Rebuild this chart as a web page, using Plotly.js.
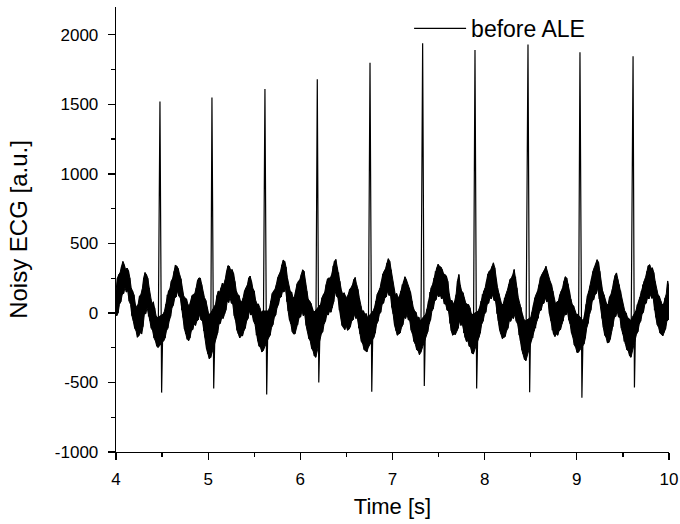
<!DOCTYPE html>
<html>
<head>
<meta charset="utf-8">
<script src="https://cdn.plot.ly/plotly-3.0.1.min.js"></script>
<style>html,body{margin:0;padding:0;background:#fff;}#chart{width:680px;height:524px;}</style>
</head>
<body>
<div id="chart"></div>
<script>
// Noisy band. Rows = 0.3 s; null = sample hidden by a QRS complex.
// upperEnvelope at t, upperMid at t+0.015, lowerEnvelope at t+0.0075, lowerMid at t+0.0225 (t = 4.00 + 0.03*i)
var sampleStart = 4.0;
var sampleStep = 0.03;
var upperEnvelope = [
  157, 276, 335, 347, 323, 252, 157, 62, 62, 133,
  252, 276, 181, 62, 38, -33, null, -10, 62, 157,
  228, 300, 335, 276, 181, 110, 62, 86, 133, 181,
  252, 205, 110, 38, -10, null, 62, 157, 181, 205,
  300, 335, 312, 228, 133, 86, 110, 181, 252, 228,
  157, 62, 38, 14, null, 14, 86, 157, 205, 276,
  347, 371, 252, 157, 110, 157, 228, 276, 300, 157,
  86, 38, 14, null, 62, 133, 205, 252, 276, 371,
  324, 228, 133, 121, 133, 181, 240, 205, 110, 14,
  -10, -33, null, 14, 86, 157, 228, 300, 359, 371,
  228, 133, 110, 157, 228, 240, 181, 86, 14, -33,
  -57, null, -10, 86, 181, 252, 324, 335, 312, 276,
  228, 86, 62, 133, 276, 157, 110, 62, 38, -10,
  null, 14, 86, 157, 228, 300, 335, 324, 181, 86,
  62, 133, 205, 252, 312, 181, 62, -10, -57, null,
  -33, 62, 133, 205, 276, 312, 300, 228, 157, 62,
  86, 157, 228, 252, 157, 62, 14, -10, null, -57,
  62, 157, 252, 324, 383, 300, 157, 86, 62, 133,
  228, 288, 205, 86, 14, -33, -57, null, 14, 86,
  157, 228, 300, 347, 324, 228, 133, 86, 62, 133,
  181
];
var upperMid = [
  250, 290, 370, 310, 305, 180, 130, 40, 120, 170,
  290, 250, 100, 80, -20, null, null, 10, 130, 175,
  250, 345, 320, 245, 120, 100, 50, 125, 140, 235,
  250, 140, 90, -5, null, null, 125, 150, 215, 240,
  340, 305, 285, 160, 125, 80, 160, 200, 265, 175,
  90, 65, 5, null, null, 35, 140, 170, 255, 300,
  380, 330, 190, 150, 115, 210, 240, 310, 220, 100,
  70, 5, null, null, 110, 150, 245, 250, 340, 385,
  290, 165, 145, 110, 170, 200, 255, 170, 50, 15,
  -5, null, null, 40, 135, 180, 280, 320, 390, 310,
  170, 140, 120, 205, 260, 200, 150, 40, 5, -30,
  null, null, 30, 150, 205, 300, 350, 330, 280, 265,
  140, 90, 85, 230, 200, 145, 70, 60, -5, null,
  null, 40, 135, 180, 280, 310, 360, 240, 140, 60,
  110, 160, 240, 275, 260, 110, 40, -45, null, null,
  5, 110, 160, 255, 290, 335, 250, 205, 90, 80,
  130, 180, 260, 210, 100, 50, -10, null, null, -5,
  125, 195, 300, 350, 365, 215, 130, 60, 115, 170,
  270, 240, 160, 40, 0, -40, null, null, 60, 115,
  205, 255, 340, 320, 290, 165, 120, 60, 110, 230,
  null
];
var lowerEnvelope = [
  -21, 62, 133, 181, 157, 62, -57, -128, -164, -152,
  -10, 38, -57, -128, -200, -248, null, -200, -128, -57,
  38, 110, 157, 110, -33, -152, -200, -128, -80, -57,
  -10, -57, -176, -295, -320, null, -176, -80, -33, -10,
  86, 110, 62, -57, -152, -164, -128, -57, 14, -10,
  -80, -200, -248, -271, null, -176, -105, -33, 38, 110,
  157, 181, 14, -80, -152, -105, -33, 14, -10, -128,
  -200, -271, -319, null, -152, -80, -10, 14, 38, 157,
  110, -33, -105, -93, -117, -57, -10, -33, -152, -224,
  -271, -248, null, -176, -80, -10, 62, 110, 157, 133,
  -10, -128, -152, -105, -33, -10, -57, -152, -224, -271,
  -283, null, -152, -80, 14, 86, 133, 133, 110, 62,
  14, -128, -152, -128, -57, -80, -176, -200, -248, -295,
  null, -176, -80, -10, 62, 110, 133, 86, -57, -152,
  -176, -128, -57, -33, -10, -80, -200, -295, -343, null,
  -200, -128, -57, 14, 62, 110, 86, -57, -152, -152,
  -128, -80, -10, 14, -80, -176, -248, -283, null, -224,
  -105, -10, 86, 133, 181, 62, -105, -176, -212, -128,
  -33, 14, -33, -152, -224, -271, -319, null, -152, -80,
  -10, 62, 110, 133, 110, -33, -105, -152, -140, -57,
  -10
];
var lowerMid = [
  0, 80, 140, 150, 85, -20, -110, -175, -140, -100,
  -5, -25, -110, -180, -240, null, null, -180, -110, -25,
  55, 115, 120, 20, -115, -190, -180, -120, -90, -50,
  -50, -130, -260, -330, null, null, -145, -75, -40, 20,
  75, 70, -20, -125, -180, -165, -110, -40, -15, -60,
  -160, -240, -280, null, null, -160, -85, -15, 60, 115,
  150, 80, -50, -135, -150, -85, -30, -20, -90, -185,
  -255, -310, null, null, -135, -60, -15, 5, 80, 120,
  20, -90, -120, -125, -100, -50, -40, -110, -205, -265,
  -280, null, null, -145, -60, 5, 70, 115, 125, 40,
  -90, -160, -145, -85, -40, -50, -125, -205, -265, -300,
  null, null, -135, -50, 30, 95, 115, 100, 65, 20,
  -75, -160, -155, -110, -90, -145, -205, -240, -290, null,
  null, -145, -60, 5, 70, 100, 90, -5, -125, -185,
  -170, -110, -60, -40, -60, -160, -265, -335, null, null,
  -180, -110, -40, 20, 70, 80, -5, -125, -170, -160,
  -120, -60, -15, -50, -145, -230, -285, null, null, -180,
  -75, 20, 95, 140, 100, -40, -160, -215, -190, -100,
  -25, -30, -110, -205, -265, -310, null, null, -135, -60,
  5, 70, 100, 105, 20, -85, -145, -165, -115, -50,
  null
];
// QRS complexes: R-peak time and value, S-trough time and value
var rPeakTimes    = [4.477, 5.041, 5.616, 6.184, 6.756, 7.327, 7.895, 8.470, 9.034, 9.610];
var rPeakValues   = [1520, 1550, 1610, 1680, 1800, 1940, 1890, 1930, 1875, 1845];
var sTroughTimes  = [4.495, 5.060, 5.635, 6.200, 6.775, 7.345, 7.913, 8.488, 9.055, 9.625];
var sTroughValues = [-573, -544, -587, -501, -566, -525, -544, -570, -609, -537];
// Axis ticks
var yTickValues = [-1000, -500, 0, 500, 1000, 1500, 2000];
var yTickLabels = ['-1000', '-500', '0', '500', '1000', '1500', '2000'];
var xTickValues = [4, 5, 6, 7, 8, 9, 10];
var xTickLabels = ['4', '5', '6', '7', '8', '9', '10'];

// Build traces from the arrays
var upX = [], upY = [], loX = [], loY = [], pts = [];
function addUp(t, v) { if (v !== null) { upX.push(t); upY.push(v); pts.push([t, v]); } }
function addLo(t, v) { if (v !== null) { loX.push(t); loY.push(v); pts.push([t, v]); } }
for (var i = 0; i < upperEnvelope.length; i++) {
  var t = sampleStart + i * sampleStep;
  addUp(t, upperEnvelope[i]);
  addLo(t + sampleStep * 0.25, lowerEnvelope[i]);
  addUp(t + sampleStep * 0.5, upperMid[i]);
  addLo(t + sampleStep * 0.75, lowerMid[i]);
}
for (var k = 0; k < rPeakTimes.length; k++) {
  pts.push([rPeakTimes[k], rPeakValues[k]]);
  pts.push([sTroughTimes[k], sTroughValues[k]]);
}
pts.sort(function (a, b) { return a[0] - b[0]; });

var bandTop = {x: upX, y: upY, type: 'scatter', mode: 'lines', showlegend: false, hoverinfo: 'skip',
  line: {color: '#000', width: 1}};
var bandBottom = {x: loX, y: loY, type: 'scatter', mode: 'lines', showlegend: false, hoverinfo: 'skip',
  fill: 'tonexty', fillcolor: '#000', line: {color: '#000', width: 1}};
var signal = {
  x: pts.map(function (p) { return p[0]; }), y: pts.map(function (p) { return p[1]; }),
  type: 'scatter', mode: 'lines', name: 'before ALE', line: {color: '#000', width: 1.2}
};

var font = 'Arial, "Liberation Sans", sans-serif';
var layout = {
  width: 680, height: 524,
  margin: {l: 116, r: 11, t: 7, b: 72},
  paper_bgcolor: '#ffffff', plot_bgcolor: '#ffffff',
  font: {family: font, color: '#000000', size: 17},
  showlegend: true,
  legend: {x: 0.53, y: 1.0, xanchor: 'left', yanchor: 'top', bgcolor: 'rgba(0,0,0,0)',
           font: {family: font, size: 23, color: '#000'}, itemwidth: 52},
  xaxis: {
    range: [4, 10], tickmode: 'array', tickvals: xTickValues, ticktext: xTickLabels,
    showgrid: false, zeroline: false,
    showline: true, linecolor: '#000', linewidth: 1.3,
    ticks: 'outside', ticklen: 7, tickwidth: 1.3, tickcolor: '#000', ticklabelstandoff: 4,
    tickfont: {family: font, size: 17},
    minor: {tickmode: 'linear', tick0: 4, dtick: 0.5, ticks: 'outside', ticklen: 4, tickwidth: 1.3, tickcolor: '#000', showgrid: false},
    title: {text: 'Time [s]', font: {family: font, size: 22}, standoff: 11}
  },
  yaxis: {
    range: [-1000, 2200], tickmode: 'array', tickvals: yTickValues, ticktext: yTickLabels,
    showgrid: false, zeroline: false,
    showline: true, linecolor: '#000', linewidth: 1.3,
    ticks: 'outside', ticklen: 7, tickwidth: 1.3, tickcolor: '#000', ticklabelstandoff: 6,
    tickfont: {family: font, size: 17},
    minor: {tickmode: 'linear', tick0: -1000, dtick: 250, ticks: 'outside', ticklen: 4, tickwidth: 1.3, tickcolor: '#000', showgrid: false},
    title: {text: 'Noisy ECG [a.u.]', font: {family: font, size: 24}, standoff: 20}
  }
};
Plotly.newPlot('chart', [bandTop, bandBottom, signal], layout, {displayModeBar: false, staticPlot: true});
</script>
</body>
</html>
